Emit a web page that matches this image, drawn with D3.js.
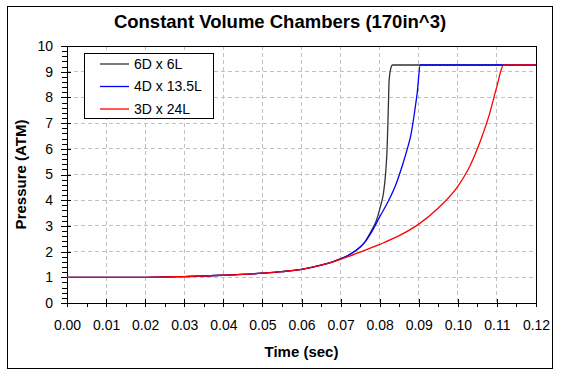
<!DOCTYPE html>
<html lang="en">
<head>
<meta charset="UTF-8">
<title>Constant Volume Chambers</title>
<script src="https://d3js.org/d3.v7.min.js"></script>
<style>
    body { margin: 0; background: #fff; }
    text { font-family: "Liberation Sans", Arial, sans-serif; fill: #000; }
    .grid line { stroke: #c0c0c0; stroke-dasharray: 4,3; shape-rendering: crispEdges; }
    .axis path, .axis line { stroke: #000; shape-rendering: crispEdges; }
    .axis text { font-size: 14px; }
</style>
</head>
<body>
<svg width="563" height="376"></svg>
<script>
// Series data (time in sec, pressure in ATM)
const seriesNames = ["6D x 6L", "4D x 13.5L", "3D x 24L"];
const seriesColors = ["#333333", "#0000ff", "#ff0000"];

const time6D = [0, 0.01, 0.02, 0.03, 0.04, 0.05, 0.055, 0.06, 0.065, 0.07, 0.072, 0.074, 0.076, 0.078, 0.079, 0.0802, 0.081, 0.0815, 0.0819, 0.0822, 0.0824, 0.0828, 0.0833, 0.12];
const press6D = [1.0, 1.0, 1.0, 1.03, 1.08, 1.16, 1.22, 1.31, 1.47, 1.72, 1.86, 2.05, 2.33, 2.85, 3.15, 3.76, 4.3, 5.0, 6.0, 7.5, 8.6, 9.1, 9.26, 9.26];

const time4D = [0, 0.01, 0.02, 0.03, 0.04, 0.05, 0.055, 0.06, 0.065, 0.07, 0.072, 0.074, 0.076, 0.078, 0.08, 0.082, 0.084, 0.086, 0.087, 0.088, 0.089, 0.0896, 0.0904, 0.12];
const press4D = [1.0, 1.0, 1.0, 1.03, 1.08, 1.16, 1.22, 1.31, 1.47, 1.72, 1.86, 2.05, 2.33, 2.78, 3.35, 3.9, 4.55, 5.45, 5.96, 6.55, 7.5, 8.17, 9.26, 9.26];

const time3D = [0, 0.01, 0.02, 0.03, 0.035, 0.04, 0.045, 0.05, 0.055, 0.06, 0.065, 0.07, 0.075, 0.08, 0.085, 0.09, 0.095, 0.1, 0.103, 0.106, 0.108, 0.11, 0.1117, 0.12];
const press3D = [1.0, 1.0, 1.0, 1.03, 1.05, 1.08, 1.11, 1.16, 1.22, 1.31, 1.47, 1.70, 1.98, 2.28, 2.62, 3.07, 3.7, 4.54, 5.3, 6.4, 7.3, 8.43, 9.26, 9.26];

const xTicks = [0, 0.01, 0.02, 0.03, 0.04, 0.05, 0.06, 0.07, 0.08, 0.09, 0.10, 0.11, 0.12];
const yTicks = [0, 1, 2, 3, 4, 5, 6, 7, 8, 9, 10];

const series = [
    { name: seriesNames[0], color: seriesColors[0], t: time6D, p: press6D },
    { name: seriesNames[1], color: seriesColors[1], t: time4D, p: press4D },
    { name: seriesNames[2], color: seriesColors[2], t: time3D, p: press3D }
];

const svg = d3.select("svg");

// outer frame
svg.append("rect")
    .attr("x", 7.5).attr("y", 6.5)
    .attr("width", 545).attr("height", 362)
    .attr("fill", "none").attr("stroke", "#000")
    .attr("shape-rendering", "crispEdges");

const plotLeft = 67, plotRight = 536, plotTop = 46, plotBottom = 303;

const x = d3.scaleLinear().domain([0, 0.12]).range([plotLeft, plotRight]);
const y = d3.scaleLinear().domain([0, 10]).range([plotBottom, plotTop]);

// dashed grid
const grid = svg.append("g").attr("class", "grid");
grid.selectAll(".gy")
    .data(yTicks.slice(1, -1))
    .enter().append("line")
    .attr("x1", plotLeft).attr("x2", plotRight)
    .attr("y1", d => y(d)).attr("y2", d => y(d));
grid.selectAll(".gx")
    .data(xTicks.slice(1, -1))
    .enter().append("line")
    .attr("x1", d => x(d)).attr("x2", d => x(d))
    .attr("y1", plotTop).attr("y2", plotBottom);

// plot frame
svg.append("rect")
    .attr("x", plotLeft).attr("y", plotTop)
    .attr("width", plotRight - plotLeft).attr("height", plotBottom - plotTop)
    .attr("fill", "none").attr("stroke", "#000")
    .attr("shape-rendering", "crispEdges");

// minor ticks
svg.append("g")
    .attr("class", "axis")
    .attr("transform", "translate(" + plotLeft + ",0)")
    .call(d3.axisLeft(y).ticks(50).tickSize(5).tickFormat(""))
    .select(".domain").remove();
svg.append("g")
    .attr("class", "axis")
    .attr("transform", "translate(0," + plotBottom + ")")
    .call(d3.axisBottom(x).ticks(24).tickSize(4).tickFormat(""))
    .select(".domain").remove();

// major ticks, crossing the axis
const yAxis = svg.append("g")
    .attr("class", "axis")
    .attr("transform", "translate(" + plotLeft + ",0)")
    .call(d3.axisLeft(y).tickValues(yTicks).tickSize(6).tickSizeOuter(0).tickPadding(8).tickFormat(d3.format("d")));
yAxis.selectAll(".tick line").attr("x1", 4);

const xAxis = svg.append("g")
    .attr("class", "axis")
    .attr("transform", "translate(0," + plotBottom + ")")
    .call(d3.axisBottom(x).tickValues(xTicks).tickSize(4).tickSizeOuter(0).tickPadding(13).tickFormat(d3.format(".2f")));
xAxis.selectAll(".tick line").attr("y1", -4);

// series lines
const line = d3.line()
    .x(d => x(d[0]))
    .y(d => y(d[1]))
    .curve(d3.curveMonotoneX);

series.forEach(function(s) {
    svg.append("path")
        .datum(d3.zip(s.t, s.p))
        .attr("fill", "none")
        .attr("stroke", s.color)
        .attr("stroke-width", 1.3)
        .attr("d", line);
});

// titles
svg.append("text")
    .attr("x", 280).attr("y", 28)
    .attr("text-anchor", "middle")
    .attr("font-size", "18.5px").attr("font-weight", "bold")
    .text("Constant Volume Chambers (170in^3)");

svg.append("text")
    .attr("x", (plotLeft + plotRight) / 2).attr("y", 357)
    .attr("text-anchor", "middle")
    .attr("font-size", "15px").attr("font-weight", "bold")
    .text("Time (sec)");

svg.append("text")
    .attr("transform", "translate(26," + (plotTop + plotBottom) / 2 + ") rotate(-90)")
    .attr("text-anchor", "middle")
    .attr("font-size", "15px").attr("font-weight", "bold")
    .text("Pressure (ATM)");

// legend
const legend = svg.append("g");
legend.append("rect")
    .attr("x", 84.5).attr("y", 53.5)
    .attr("width", 129).attr("height", 65)
    .attr("fill", "#fff").attr("stroke", "#000")
    .attr("shape-rendering", "crispEdges");

const rows = legend.selectAll(".row")
    .data(series)
    .enter().append("g")
    .attr("transform", (d, i) => "translate(0," + (64 + i * 22.5) + ")");
rows.append("line")
    .attr("x1", 100).attr("x2", 129)
    .attr("stroke", d => d.color)
    .attr("stroke-width", 1.3);
rows.append("text")
    .attr("x", 134).attr("dy", "0.35em")
    .attr("font-size", "14px")
    .text(d => d.name);
</script>
</body>
</html>
